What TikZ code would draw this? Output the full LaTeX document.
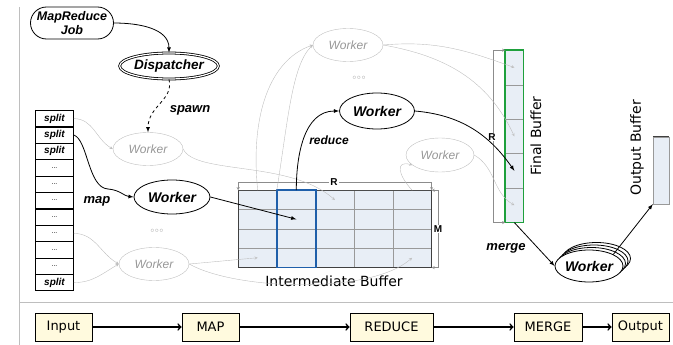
\documentclass[tikz,border=0pt]{standalone}
\usepackage{fontspec}
\setmainfont{Liberation Sans}
\newfontfamily\handfont{DejaVu Sans}
\usetikzlibrary{arrows,shapes,shapes.misc,matrix}
\definecolor{bufferfill}{RGB}{232,238,246}
\definecolor{ibblue}{RGB}{31,95,170}
\definecolor{fbgreen}{RGB}{30,160,60}
\definecolor{stagefill}{RGB}{255,250,222}
\definecolor{idleline}{RGB}{190,190,190}
\definecolor{idletext}{RGB}{150,150,150}
\tikzstyle{worker}=[ellipse,draw,thick,inner sep=0pt,minimum width=76pt,minimum height=34pt,font=\fontsize{14}{14}\selectfont\bfseries\itshape]
\tikzstyle{idle worker}=[ellipse,draw=idleline,inner sep=0pt,minimum width=70pt,minimum height=33pt,text=idletext,font=\fontsize{12}{12}\selectfont\itshape]
\tikzstyle{flow}=[draw,thick,-latex]
\tikzstyle{idle flow}=[draw=idleline,-stealth]
\tikzstyle{dimline}=[draw=black!45,stealth-stealth]
\tikzstyle{dim label}=[fill=white,inner sep=1pt,font=\fontsize{10}{10}\selectfont\bfseries]
\tikzstyle{edge label}=[font=\fontsize{13}{13}\selectfont\bfseries\itshape]
\tikzstyle{buffer label}=[font=\handfont\fontsize{14}{14}\selectfont]
\tikzstyle{stage}=[draw,thick,fill=stagefill,minimum height=28pt,inner sep=2pt,font=\handfont\fontsize{13}{13}\selectfont]
\tikzstyle{stage edge}=[draw,line width=1.6pt,-to]
\newcommand{\splt}{{\fontsize{10}{10}\selectfont\bfseries\itshape split}}

\begin{document}
\begin{tikzpicture}[x=1pt, y=-1pt]
    \useasboundingbox (0,0) rectangle (673,345);

    % Frame
    \draw[idleline] (19,7) -- (19,345);
    \draw[idleline] (19,302) -- (673,302);

    % Job and dispatcher
    \node[rounded rectangle,draw,thick,minimum width=85pt,minimum height=32pt,inner sep=1pt,
          align=center,font=\fontsize{12.5}{14}\selectfont\bfseries\itshape] (job) at (72,23) {MapReduce\\Job};
    \node[ellipse,draw,thick,double,double distance=1.2pt,minimum width=88pt,minimum height=26pt,inner sep=0pt,
          font=\fontsize{13.5}{13.5}\selectfont\bfseries\itshape] (disp) at (169,66) {Dispatcher};

    % Input splits
    \matrix (sp) [matrix of nodes, anchor=north west, inner sep=0pt, row sep=-\pgflinewidth,
                  nodes={draw,semithick,minimum width=38pt,minimum height=16.2pt,inner sep=0pt,
                         font=\fontsize{7}{7}\selectfont}] at (35,110)
        { \splt \\ \splt \\ \splt \\ ... \\ ... \\ ... \\ ... \\ ... \\ ... \\ ... \\ \splt \\ };

    % Intermediate buffer
    \matrix (ib) [matrix of nodes, nodes in empty cells, anchor=north west, inner sep=0pt,
                  row sep=-\pgflinewidth, column sep=-\pgflinewidth,
                  nodes={draw=black!40,fill=bufferfill,minimum width=38.6pt,minimum height=19.25pt,inner sep=0pt}] at (238,190)
        { & & & & \\ & & & & \\ & & & & \\ & & & & \\ };
    \draw[black!75,semithick] (ib-1-1.north west) rectangle (ib-4-5.south east);
    \draw[black!70,thick] (ib-1-1.north west) -- (ib-1-5.north east);
    \draw[ibblue,line width=1.5pt] (ib-1-2.north west) rectangle (ib-4-2.south east);
    \node[buffer label] (iblabel) at (334,281) {Intermediate Buffer};

    % Final and output buffers
    \matrix (fb) [matrix of nodes, nodes in empty cells, anchor=north west, inner sep=0pt,
                  row sep=-\pgflinewidth,
                  nodes={draw=black!40,fill=bufferfill,minimum width=18pt,minimum height=34.4pt,inner sep=0pt}] at (505,50)
        { \\ \\ \\ \\ \\ };
    \draw[fbgreen,line width=1.5pt] (fb-1-1.north west) rectangle (fb-5-1.south east);
    \node[buffer label,rotate=90] (fblabel) at (536,136) {Final Buffer};
    \node[draw=black!40,fill=bufferfill,minimum width=16pt,minimum height=67pt,inner sep=0pt] (outbuf) at (661,170.5) {};
    \draw[black!75,semithick] (outbuf.north west) -- (outbuf.north east);
    \node[buffer label,rotate=90] (oblabel) at (637,148) {Output Buffer};

    % Dimensions
    \draw[dimline] (ib-1-1.north west) -- ++(0,-8) -| (ib-1-5.north east);
    \node[dim label] (ibr) at (334,182) {R};
    \draw[dimline] (ib-1-5.north east) -- ++(7,0) |- (ib-4-5.south east);
    \node[dim label] (ibm) at (438,229) {M};
    \draw[dimline] (fb-1-1.north west) -- ++(-12,0) |- (fb-5-1.south west);
    \node[dim label] (fbr) at (492,137) {R};

    % Workers
    \node[idle worker] (w1) at (148,149) {Worker};
    \node[worker] (wmap) at (172,197) {Worker};
    \node[idle worker] (w3) at (154,264) {Worker};
    \node[idle worker] (wtop) at (348,45) {Worker};
    \node[worker,minimum width=75pt,minimum height=36pt] (wred) at (377,111) {Worker};
    \node[idle worker,minimum width=68pt,minimum height=34pt] (wright) at (440,155) {Worker};
    \foreach \s in {3,2,1}
        \node[worker,fill=white,minimum width=68pt,minimum height=32pt] (wback\s) at ({589+2.5*\s},{266-2.5*\s}) {};
    \node[worker,fill=white,minimum width=68pt,minimum height=32pt] (wmerge) at (589,266) {Worker};
    \node[text=idletext,font=\scriptsize] (dotsa) at (157,231) {$\circ\!\circ\!\circ$};
    \node[text=idletext,font=\scriptsize] (dotsb) at (359,78) {$\circ\!\circ\!\circ$};

    % Idle links
    \path[idle flow] (sp-1-1.east) to[out=0,in=150] (w1.west);
    \path[idle flow] (sp-8-1.east) to[out=0,in=150] (w3.west);
    \path[idle flow] (sp-11-1.east) to[out=0,in=210] (w3.west);
    \path[idle flow] (w1.east) .. controls (195,175) and (290,160) .. (ib-1-3.center);
    \path[idle flow] (w3.east) to[out=5,in=185] (ib-4-1.center);
    \path[idle flow] (w3.east) .. controls (235,290) and (370,295) .. (ib-4-5.center);
    \path[idle flow] (ib-1-1.north) .. controls (250,115) and (270,60) .. (wtop.west);
    \path[idle flow] (ib-1-2.north west) .. controls (288,120) and (292,65) .. (wtop.west);
    \path[idle flow] (ib-1-5.north) .. controls (398,175) and (395,160) .. (wright.200);
    \path[idle flow] (wright.east) to[out=-30,in=150] (fb-5-1.center);
    \path[idle flow] (wtop.east) to[out=5,in=160] (fb-1-1.center);
    \path[idle flow] (wtop.east) to[out=-10,in=115] (fb-3-1.center);

    % Active links
    \path[flow] (job.east) to[out=0,in=90] (disp.north);
    \path[flow,dashed] (disp.south) .. controls (174,100) and (148,106) .. (w1.north);
    \node[edge label] (spawn) at (190,110) {spawn};
    \path[flow] (sp-2-1.east) .. controls (88,140) and (88,188) .. (108,189)
                              .. controls (120,190) and (124,196) .. (wmap.west);
    \node[edge label] (maplabel) at (97,201) {map};
    \path[flow] (wmap.east) -- (ib-2-2.center);
    \path[flow] (ib-1-2.north) to[out=90,in=180] (wred.west);
    \node[edge label,font=\fontsize{12}{12}\selectfont\bfseries\itshape] (reducelabel) at (329,140) {reduce};
    \path[flow] (wred.east) to[out=-5,in=125] (fb-4-1.center);
    \path[flow] (fb-5-1.south) -- (wmerge.west);
    \node[edge label] (mergelabel) at (506,248) {merge};
    \path[flow] (wmerge.north east) -- (outbuf.south west);

    % Stages
    \foreach \pos/\name/\txt/\boxw in {{(63.5,327)/input/Input/57}, {(210.5,327)/mapping/MAP/57},
                                     {(391.5,327)/reducing/REDUCE/83}, {(548,327)/merging/MERGE/68},
                                     {(640.5,327)/output/Output/57}}
        \node[stage,minimum width=\boxw pt] (\name) at \pos {\txt};
    \foreach \source/\dest in {input/mapping, mapping/reducing, reducing/merging, merging/output}
        \path[stage edge] (\source) -- (\dest);

\end{tikzpicture}
\end{document}
